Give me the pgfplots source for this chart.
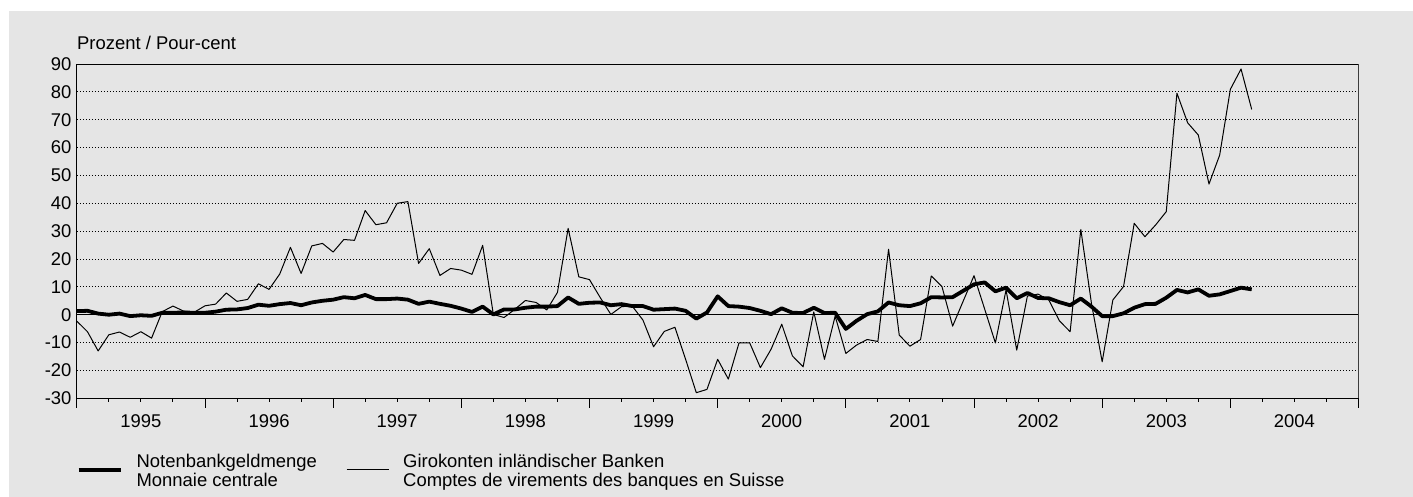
\documentclass[border=0pt]{standalone}
\usepackage{fontspec}
\setmainfont{Liberation Sans}
\usepackage{pgfplots}
\usepackage{pgfplotstable}
\pgfplotsset{compat=1.18}
\definecolor{bg}{RGB}{229,229,229}
\definecolor{rframe}{RGB}{95,95,95}
\newcommand{\cf}{\fontsize{18.5}{19.5}\selectfont}
\pgfplotstableread{
m nb gk
0 1.3 -2.3
1 1.4 -6.1
2 0.4 -13.0
3 0.0 -7.2
4 0.4 -6.2
5 -0.5 -8.1
6 -0.2 -6.1
7 -0.4 -8.4
8 0.7 1.1
9 0.7 3.1
10 0.8 1.3
11 0.7 0.9
12 0.7 3.2
13 1.1 3.8
14 1.8 7.8
15 1.9 4.8
16 2.4 5.5
17 3.6 11.1
18 3.2 9.1
19 3.8 14.6
20 4.2 24.2
21 3.4 14.8
22 4.4 24.7
23 5.0 25.6
24 5.4 22.5
25 6.3 27.0
26 5.9 26.7
27 7.1 37.4
28 5.6 32.3
29 5.6 33.0
30 5.8 40.0
31 5.4 40.6
32 3.9 18.4
33 4.7 23.7
34 3.9 14.1
35 3.2 16.6
36 2.2 16.0
37 1.0 14.5
38 2.9 24.9
39 0.1 0.1
40 1.9 -1.0
41 1.9 1.9
42 2.5 5.1
43 2.9 4.4
44 2.9 1.7
45 3.1 8.0
46 6.2 31.0
47 3.9 13.6
48 4.3 12.6
49 4.4 6.2
50 3.4 0.1
51 3.8 2.9
52 3.1 3.1
53 3.1 -1.9
54 1.8 -11.5
55 2.0 -6.0
56 2.2 -4.5
57 1.4 -16.0
58 -1.4 -28.0
59 0.8 -26.8
60 6.6 -16.0
61 3.1 -23.1
62 2.9 -10.1
63 2.4 -10.1
64 1.4 -19.0
65 0.2 -12.4
66 2.3 -3.4
67 0.7 -14.8
68 0.6 -18.7
69 2.5 1.0
70 0.6 -16.0
71 0.7 -0.5
72 -5.1 -13.9
73 -2.2 -10.9
74 0.2 -8.9
75 1.2 -9.6
76 4.4 23.5
77 3.4 -7.3
78 3.1 -11.3
79 4.1 -8.9
80 6.3 13.9
81 6.2 10.1
82 6.3 -4.1
83 8.6 5.0
84 10.9 14.0
85 11.6 2.0
86 8.4 -10.1
87 9.7 8.9
88 5.9 -12.7
89 7.8 6.7
90 6.0 7.4
91 5.9 5.3
92 4.5 -2.2
93 3.4 -6.1
94 5.8 30.6
95 2.9 4.0
96 -0.5 -16.9
97 -0.5 5.3
98 0.5 10.1
99 2.5 32.8
100 3.8 28.0
101 3.9 32.2
102 6.1 37.0
103 8.9 79.5
104 8.0 68.9
105 9.1 64.5
106 6.8 46.9
107 7.3 57.3
108 8.5 80.9
109 9.7 88.2
110 9.1 73.7
}\datatable
\begin{document}
\begin{tikzpicture}[x=1bp,y=1bp]
\useasboundingbox (0,0) rectangle (1413,497);
\fill[bg] (9,0) rectangle (1413,486);
\node[anchor=base west, inner sep=0pt, font=\cf] at (77,447.5) {Prozent / Pour-cent};
\begin{axis}[
  at={(76.8bp,98.7bp)}, anchor=south west,
  scale only axis, width=1281.7bp, height=334.3bp,
  xmin=0, xmax=120, ymin=-30, ymax=90,
  xtick={0,12,...,120},
  x tick label as interval,
  xticklabels={1995,1996,1997,1998,1999,2000,2001,2002,2003,2004},
  minor xtick={3,6,...,117},
  ytick={-30,-20,...,90},
  yticklabels={-30,-20,-10,0,10,20,30,40,50,60,70,80,90},
  xtick pos=bottom, ytick pos=left,
  tick align=outside,
  major tick length=9.4bp, minor tick length=3.5bp,
  tick style={black, line width=0.9bp},
  ytick style={draw=none},
  ymajorgrids=true,
  major grid style={black, line width=0.8bp, dash pattern=on 0.8bp off 2.2bp},
  axis line style={black, line width=0.9bp},
  xticklabel style={anchor=north, inner sep=0pt, yshift=-6.3bp, font=\cf},
  yticklabel style={anchor=east, inner sep=0pt, xshift=4.3bp, font=\cf},
  reverse legend,
  legend columns=2,
  legend image code/.code={\draw[#1, line join=round] (0bp,-2.5bp) -- (42.6bp,-2.5bp);},
  legend style={at={(axis description cs:0,-0.1662)}, anchor=north west,
    draw=none, fill=none, inner sep=0pt, outer sep=0pt,
    font=\cf, cells={anchor=base west},
    nodes={inner sep=0pt, outer sep=0pt},
    /tikz/every odd column/.style={column sep=13.4bp},
    /tikz/every even column/.style={column sep=0bp}},
]
\addplot[black, line width=0.9bp, forget plot] coordinates {(0,0) (120,0)};
\addplot[black, line width=1bp, line join=round] table[x=m, y=gk] {\datatable};
\addlegendentry{\begin{tabular}[t]{@{}l@{}}Girokonten inländischer Banken\\Comptes de virements des banques en Suisse\end{tabular}}
\addplot[black, line width=3.8bp, line join=round] table[x=m, y=nb] {\datatable};
\addlegendentry{\begin{tabular}[t]{@{}p{209.6bp}@{}}Notenbankgeldmenge\\Monnaie centrale\end{tabular}}
\draw[rframe, line width=1.6bp] (rel axis cs:1,0) -- (rel axis cs:1,1);
\end{axis}
\end{tikzpicture}
\end{document}
